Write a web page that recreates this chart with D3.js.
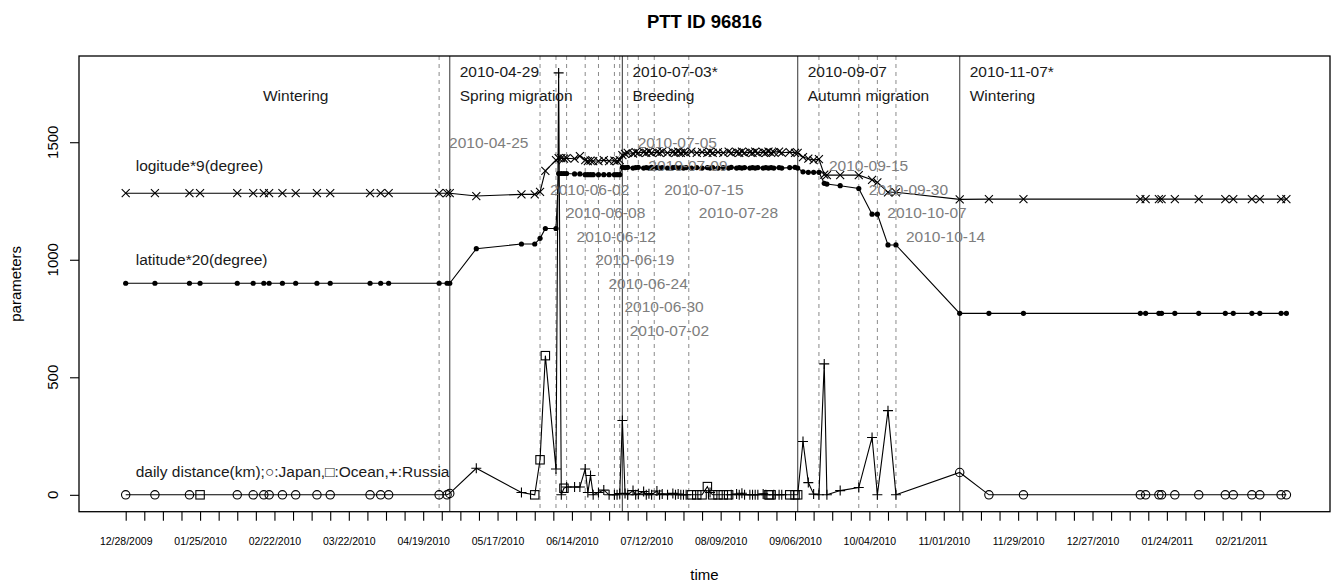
<!DOCTYPE html>
<html><head><meta charset="utf-8">
<script src="https://cdn.jsdelivr.net/npm/d3@7/dist/d3.min.js"></script>
<style>
body{margin:0;background:#fff}
svg{display:block}
text{font-family:"Liberation Sans",Arial,Helvetica,sans-serif}
</style>
</head><body>
<svg id="c" width="1332" height="583"></svg>
<script>
// ---------------- DATA ----------------
const dates = [
"2009-12-28","2010-01-08","2010-01-21","2010-01-25","2010-02-08","2010-02-14","2010-02-18","2010-02-20","2010-02-25","2010-03-02","2010-03-10","2010-03-15","2010-03-30","2010-04-03","2010-04-06","2010-04-25","2010-04-28","2010-04-29",
"2010-05-09","2010-05-26","2010-05-31","2010-06-02","2010-06-04","2010-06-08","2010-06-09","2010-06-10","2010-06-11","2010-06-12","2010-06-15","2010-06-17","2010-06-19","2010-06-20","2010-06-21","2010-06-22","2010-06-24","2010-06-26","2010-06-28","2010-06-30","2010-07-01","2010-07-02",
"2010-07-03","2010-07-04","2010-07-05","2010-07-07","2010-07-08","2010-07-09","2010-07-11","2010-07-12","2010-07-13","2010-07-14","2010-07-16","2010-07-17","2010-07-18","2010-07-20","2010-07-22","2010-07-23","2010-07-24","2010-07-25","2010-07-26","2010-07-27",
"2010-07-29","2010-07-31","2010-08-02","2010-08-04","2010-08-05","2010-08-06","2010-08-08","2010-08-10","2010-08-12",
"2010-08-13","2010-08-15","2010-08-16","2010-08-17","2010-08-18","2010-08-20","2010-08-21","2010-08-22","2010-08-23","2010-08-25","2010-08-26","2010-08-27","2010-08-28","2010-08-29","2010-08-31","2010-09-01","2010-09-04","2010-09-06",
"2010-09-07","2010-09-09","2010-09-11","2010-09-13","2010-09-15","2010-09-17","2010-09-18","2010-09-23","2010-09-30","2010-10-05","2010-10-07","2010-10-11","2010-10-14",
"2010-11-07","2010-11-18","2010-12-01","2011-01-14","2011-01-16","2011-01-21","2011-01-22","2011-01-27","2011-02-05","2011-02-15","2011-02-18","2011-02-25","2011-02-28","2011-03-08","2011-03-10"
];
// longitude * 9
const lon9 = [
1283,1283,1283,1283,1283,1283,1283,1283,1283,1283,1283,1283,1283,1283,1283,1283,1283,1283,
1271,1278,1278,1289,1378,1424,1432,1432,1430,1432,1430,1441,1424,1420,1422,1420,1420,1424,1420,1422,1420,1424,
1445,1450,1455,1452,1458,1455,1458,1455,1460,1455,1458,1455,1460,1455,1458,1455,1460,1455,1458,1455,
1460,1455,1458,1455,1460,1455,1458,1455,1460,
1455,1458,1455,1460,1455,1458,1455,1460,1455,1458,1455,1460,1455,1458,1460,1455,1458,1455,
1455,1437,1430,1424,1428,1362,1360,1360,1360,1340,1329,1287,1287,
1257,1258,1258,1258,1258,1258,1258,1258,1258,1258,1258,1258,1258,1258,1258
];
// latitude * 20
const lat20 = [
900,900,900,900,900,900,900,900,900,900,900,900,900,900,900,900,900,900,
1047,1067,1067,1091,1133,1133,1367,1367,1367,1367,1365,1365,1362,1362,1362,1362,1362,1362,1362,1362,1362,1362,
1393,1392,1393,1390,1392,1393,1390,1392,1390,1393,1392,1390,1392,1390,1392,1393,1390,1392,1390,1392,
1390,1392,1390,1392,1390,1392,1390,1392,1390,
1393,1390,1392,1390,1392,1390,1392,1390,1392,1390,1392,1390,1392,1390,1392,1390,1392,1393,
1390,1374,1372,1372,1372,1325,1322,1315,1303,1194,1194,1063,1063,
772,772,772,772,772,772,772,772,772,772,772,772,772,772,772
];
// daily distance (km)
const dist = [
0,0,0,0,0,0,0,0,0,0,0,0,0,0,0,0,0,6,
113,10,0,149,592,110,1795,0,28,33,33,33,110,10,82,0,10,20,0,0,0,5,
316,6,0,18,0,3,14,0,5,0,16,0,4,0,6,0,3,0,0,0,
0,0,0,35,10,0,0,0,0,
0,3,0,7,0,0,0,0,0,4,0,0,0,0,0,0,0,0,
0,227,52,3,0,557,0,18,31,244,0,358,0,
95,0,0,0,0,0,0,0,0,0,0,0,0,0,0
];
// J = Japan (circle), O = Ocean (square), R = Russia (plus)
const region = [
"J","J","J","O","J","J","J","J","J","J","J","J","J","J","J","J","J","J",
"R","R","O","O","O","R","R","R","O","R","R","R","R","R","R","R","R","R","R","R","R","R",
"R","R","R","R","R","R","R","R","R","R","R","R","R","R","R","R","R","R","R","R",
"O","O","O","O","R","O","O","O","O",
"R","R","R","R","R","R","R","R","R","R","R","O","O","R","R","R","O","O",
"O","R","R","R","R","R","R","R","R","R","R","R","R",
"J","J","J","J","J","J","J","J","J","J","J","J","J","J","J"
];

const phaseDates  = ["2010-04-29","2010-07-03","2010-09-07","2010-11-07"];
const phaseTitles = ["2010-04-29","2010-07-03*","2010-09-07","2010-11-07*"];
const phaseNames  = ["Spring migration","Breeding","Autumn migration","Wintering"];
const firstPhaseName = "Wintering";
const firstPhaseDate = "2010-03-02";

const markDates  = ["2010-04-25","2010-06-02","2010-06-08","2010-06-12","2010-06-19","2010-06-24","2010-06-30","2010-07-02","2010-07-05","2010-07-09","2010-07-15","2010-07-28","2010-09-15","2010-09-30","2010-10-07","2010-10-14"];
const markLevels = [1500,1300,1200,1100,1000,900,800,700,1500,1400,1300,1200,1400,1300,1200,1100];

const seriesLabels = ["logitude*9(degree)","latitude*20(degree)","daily distance(km);\u25CB:Japan,\u25A1:Ocean,+:Russia"];
const seriesLabelLevels = [1400,1000,100];

const yTicks = [0,500,1000,1500];
const xTickFirst = "2009-12-28";
const xTickLast  = "2011-02-28";

// ---------------- CHART ----------------
const parse = d3.utcParse("%Y-%m-%d");
const fmt = d3.utcFormat("%m/%d/%Y");
const svg = d3.select("#c");
const L = 79, R = 1330, T = 56, B = 511.7;

svg.append("rect").attr("width",1332).attr("height",583).attr("fill","#fff");

const x = d3.scaleUtc()
  .domain([new Date(Date.UTC(2009,11,10,10)), new Date(Date.UTC(2011,2,26,10))])
  .range([L, R]);
const y = d3.scaleLinear().domain([-71.8, 1866.8]).range([B, T]);

const pts = dates.map((d,i)=>({d:parse(d), lon:lon9[i], lat:lat20[i], dist:dist[i], reg:region[i]}));

// vertical dashed marker lines
const gMarks = svg.append("g");
markDates.forEach((d,i)=>{
  const xx = x(parse(d));
  gMarks.append("line").attr("x1",xx).attr("x2",xx).attr("y1",T).attr("y2",B)
    .attr("stroke","#8a8a8a").attr("stroke-width",1).attr("stroke-dasharray","4,4");
});
// solid phase lines
phaseDates.forEach(d=>{
  const xx = x(parse(d));
  svg.append("line").attr("x1",xx).attr("x2",xx).attr("y1",T).attr("y2",B)
    .attr("stroke","#555").attr("stroke-width",1.2);
});

// series lines
const lineOf = key => d3.line().x(p=>x(p.d)).y(p=>y(p[key]));
["lon","lat","dist"].forEach(k=>{
  svg.append("path").datum(pts).attr("d",lineOf(k))
    .attr("fill","none").attr("stroke","#000").attr("stroke-width",1.1);
});

const gM = svg.append("g").attr("stroke","#000").attr("stroke-width",1.1).attr("fill","none");
// longitude: x marks
pts.forEach(p=>{
  const cx=x(p.d), cy=y(p.lon), s=4;
  gM.append("path").attr("d",`M${cx-s},${cy-s}L${cx+s},${cy+s}M${cx-s},${cy+s}L${cx+s},${cy-s}`);
});
// latitude: filled dots
pts.forEach(p=>{
  svg.append("circle").attr("cx",x(p.d)).attr("cy",y(p.lat)).attr("r",2.6).attr("fill","#000");
});
// distance: by region
pts.forEach(p=>{
  const cx=x(p.d), cy=y(p.dist);
  if(p.reg==="J"){
    gM.append("circle").attr("cx",cx).attr("cy",cy).attr("r",4.2);
  } else if(p.reg==="O"){
    gM.append("rect").attr("x",cx-4.2).attr("y",cy-4.2).attr("width",8.4).attr("height",8.4);
  } else {
    gM.append("path").attr("d",`M${cx-5},${cy}L${cx+5},${cy}M${cx},${cy-5}L${cx},${cy+5}`);
  }
});

// marker labels (gray)
markDates.forEach((d,i)=>{
  svg.append("text").attr("x",x(parse(d))+10).attr("y",y(markLevels[i]))
    .attr("dominant-baseline","central").attr("font-size",15.5).attr("fill","#7d7d7d")
    .text(d);
});
// phase labels
phaseDates.forEach((d,i)=>{
  const xx = x(parse(d))+10;
  svg.append("text").attr("x",xx).attr("y",y(1800)).attr("dominant-baseline","central")
    .attr("font-size",15.5).attr("fill","#1a1a1a").text(phaseTitles[i]);
  svg.append("text").attr("x",xx).attr("y",y(1700)).attr("dominant-baseline","central")
    .attr("font-size",15.5).attr("fill","#1a1a1a").text(phaseNames[i]);
});
svg.append("text").attr("x",x(parse(firstPhaseDate))).attr("y",y(1700)).attr("text-anchor","middle")
  .attr("dominant-baseline","central").attr("font-size",15.5).attr("fill","#1a1a1a").text(firstPhaseName);

// series labels
seriesLabels.forEach((s,i)=>{
  svg.append("text").attr("x",x(parse(dates[0]))+10).attr("y",y(seriesLabelLevels[i]))
    .attr("dominant-baseline","central").attr("font-size",15.5).attr("fill","#1a1a1a").text(s);
});

// box
svg.append("rect").attr("x",L).attr("y",T).attr("width",R-L).attr("height",B-T)
  .attr("fill","none").attr("stroke","#000").attr("stroke-width",1.3);

// x axis: weekly ticks (Mondays), label every 4th
const weekTicks = d3.utcMonday.range(parse(xTickFirst), d3.utcDay.offset(parse(xTickLast),1));
const xAxis = d3.axisBottom(x).tickValues(weekTicks).tickSize(9).tickPadding(17)
  .tickFormat((d,i)=> i%4===0 ? fmt(d) : "");
const gx = svg.append("g").attr("transform",`translate(0,${B})`).call(xAxis);
gx.select(".domain").remove();
gx.selectAll("line").attr("stroke","#000").attr("stroke-width",1.1);
gx.selectAll("text").attr("font-size",10.5).attr("fill","#000").style("font-family",'"Liberation Sans",Arial,sans-serif');

// y axis
const yAxis = d3.axisLeft(y).tickValues(yTicks).tickSize(9).tickFormat("");
const gy = svg.append("g").attr("transform",`translate(${L},0)`).call(yAxis);
gy.select(".domain").remove();
gy.selectAll("line").attr("stroke","#000").attr("stroke-width",1.1);
yTicks.forEach(v=>{
  svg.append("text").attr("transform",`translate(52.7,${y(v)}) rotate(-90)`)
    .attr("text-anchor","middle").attr("dominant-baseline","central")
    .attr("font-size",15).attr("fill","#000").text(v);
});

// titles
svg.append("text").attr("x",(L+R)/2).attr("y",21).attr("text-anchor","middle").attr("dominant-baseline","central")
  .attr("font-size",18.5).attr("font-weight","bold").attr("fill","#000").text("PTT ID 96816");
svg.append("text").attr("x",(L+R)/2).attr("y",574).attr("text-anchor","middle").attr("dominant-baseline","central")
  .attr("font-size",15).attr("fill","#000").text("time");
svg.append("text").attr("transform",`translate(15,${(T+B)/2}) rotate(-90)`).attr("text-anchor","middle")
  .attr("dominant-baseline","central").attr("font-size",15).attr("fill","#000").text("parameters");
</script>
</body></html>
